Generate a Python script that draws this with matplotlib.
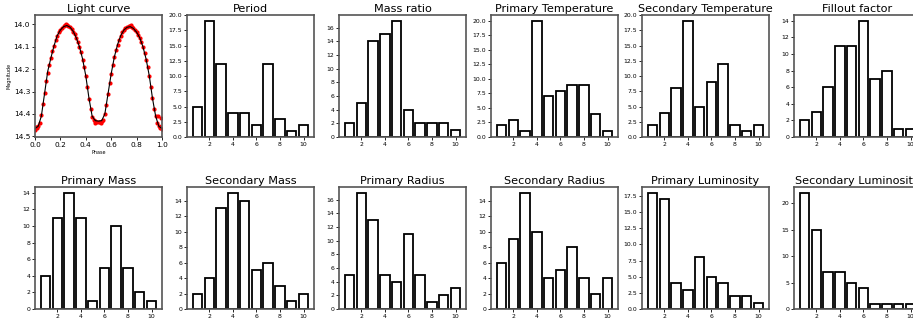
import numpy as np
import matplotlib.pyplot as plt

# Curva de luz (modelo y observaciones)
model_phase = [0.000, 0.025, 0.050, 0.075, 0.100, 0.125, 0.150, 0.175, 0.200, 0.225,
               0.250, 0.275, 0.300, 0.325, 0.350, 0.375, 0.400, 0.425, 0.450, 0.475,
               0.500, 0.525, 0.550, 0.575, 0.600, 0.625, 0.650, 0.675, 0.700, 0.725,
               0.750, 0.775, 0.800, 0.825, 0.850, 0.875, 0.900, 0.925, 0.950, 0.975, 1.000]
model_mag = [14.465, 14.455, 14.41, 14.31, 14.21, 14.15, 14.095, 14.05, 14.025, 14.01,
             14.005, 14.012, 14.03, 14.06, 14.10, 14.155, 14.23, 14.33, 14.41, 14.43,
             14.432, 14.43, 14.40, 14.31, 14.22, 14.145, 14.09, 14.05, 14.025, 14.013,
             14.01, 14.018, 14.035, 14.06, 14.10, 14.155, 14.23, 14.33, 14.41, 14.455, 14.465]

obs_phase = [0.0000, 0.0125, 0.0250, 0.0375, 0.0500, 0.0625, 0.0750, 0.0875, 0.1000, 0.1125,
             0.1250, 0.1375, 0.1500, 0.1625, 0.1750, 0.1875, 0.2000, 0.2125, 0.2250, 0.2375,
             0.2500, 0.2625, 0.2750, 0.2875, 0.3000, 0.3125, 0.3250, 0.3375, 0.3500, 0.3625,
             0.3750, 0.3875, 0.4000, 0.4125, 0.4250, 0.4375, 0.4500, 0.4625, 0.4750, 0.4875,
             0.5000, 0.5125, 0.5250, 0.5375, 0.5500, 0.5625, 0.5750, 0.5875, 0.6000, 0.6125,
             0.6250, 0.6375, 0.6500, 0.6625, 0.6750, 0.6875, 0.7000, 0.7125, 0.7250, 0.7375,
             0.7500, 0.7625, 0.7750, 0.7875, 0.8000, 0.8125, 0.8250, 0.8375, 0.8500, 0.8625,
             0.8750, 0.8875, 0.9000, 0.9125, 0.9250, 0.9375, 0.9500, 0.9625, 0.9750, 0.9875,
             1.0000, 0.9650, 0.9950, 0.0060, 0.4700, 0.5200, 0.2450, 0.7550]
obs_mag = [14.470, 14.462, 14.455, 14.440, 14.405, 14.355, 14.305, 14.255, 14.215, 14.180,
           14.150, 14.120, 14.098, 14.070, 14.052, 14.035, 14.025, 14.015, 14.008, 14.003,
           14.002, 14.006, 14.012, 14.020, 14.032, 14.045, 14.062, 14.080, 14.102, 14.125,
           14.158, 14.190, 14.232, 14.280, 14.332, 14.380, 14.412, 14.428, 14.432, 14.435,
           14.436, 14.434, 14.432, 14.425, 14.400, 14.358, 14.310, 14.262, 14.222, 14.180,
           14.147, 14.115, 14.090, 14.068, 14.050, 14.036, 14.026, 14.018, 14.012, 14.009,
           14.008, 14.012, 14.018, 14.026, 14.036, 14.047, 14.062, 14.080, 14.102, 14.126,
           14.157, 14.190, 14.232, 14.280, 14.330, 14.378, 14.410, 14.440, 14.455, 14.462,
           14.468, 14.410, 14.420, 14.458, 14.440, 14.442, 13.998, 14.003]

# Histogramas de parametros
bins = [1, 2, 3, 4, 5, 6, 7, 8, 9, 10]
period = [5, 19, 12, 4, 4, 2, 12, 3, 1, 2]
mass_ratio = [2, 5, 14, 15, 17, 4, 2, 2, 2, 1]
primary_temp = [2, 3, 1, 20, 7, 8, 9, 9, 4, 1]
secondary_temp = [2, 4, 8, 19, 5, 9, 12, 2, 1, 2]
fillout = [2, 3, 6, 11, 11, 14, 7, 8, 1, 1]
primary_mass = [4, 11, 14, 11, 1, 5, 10, 5, 2, 1]
secondary_mass = [2, 4, 13, 15, 14, 5, 6, 3, 1, 2]
primary_radius = [5, 17, 13, 5, 4, 11, 5, 1, 2, 3]
secondary_radius = [6, 9, 15, 10, 4, 5, 8, 4, 2, 4]
primary_lum = [18, 17, 4, 3, 8, 5, 4, 2, 2, 1]
secondary_lum = [22, 15, 7, 7, 5, 4, 1, 1, 1, 1]

top_titles = ["Period", "Mass ratio", "Primary Temperature", "Secondary Temperature", "Fillout factor"]
top_data = [period, mass_ratio, primary_temp, secondary_temp, fillout]
top_ymax = [20.02, None, None, 20.02, None]
bottom_titles = ["Primary Mass", "Secondary Mass", "Primary Radius", "Secondary Radius",
                 "Primary Luminosity", "Secondary Luminosity"]
bottom_data = [primary_mass, secondary_mass, primary_radius, secondary_radius, primary_lum, secondary_lum]

W, H = 913, 324
fig = plt.figure(figsize=(W / 100, H / 100), dpi=100)

lefts = [35, 187, 339, 491, 642, 794]
aw, ah = 127, 122


def make_axes(col, top):
    return fig.add_axes([lefts[col] / W, 1 - (top + ah) / H, aw / W, ah / H])


def style(ax, title, labelsize=4.4):
    ax.set_title(title, fontsize=8.1, pad=2)
    ax.tick_params(labelsize=labelsize, length=2, width=0.6, pad=1.5)
    for s in ax.spines.values():
        s.set_linewidth(1.2)
        s.set_color("#555555")


def draw_hist(ax, values, title, ymax=None):
    ax.bar(bins, values, width=0.8, color="white", edgecolor="black", linewidth=1.3)
    ax.set_xticks([2, 4, 6, 8, 10])
    if ymax is not None:
        ax.set_ylim(0, ymax)
    style(ax, title)


# Curva de luz
ax = make_axes(0, 15)
ax.plot(obs_phase, obs_mag, "o", color="red", ms=3.0, mew=0)
ax.plot(model_phase, model_mag, color="black", lw=0.8)
ax.set_xlim(0, 1)
ax.set_ylim(14.503, 13.958)
ax.set_xticks([0.0, 0.2, 0.4, 0.6, 0.8, 1.0])
ax.set_yticks([14.0, 14.1, 14.2, 14.3, 14.4, 14.5])
ax.set_xlabel("Phase", fontsize=3.5, labelpad=1.5)
ax.set_ylabel("Magnitude", fontsize=3.5, labelpad=1.5)
style(ax, "Light curve", labelsize=5.3)

for i, (vals, t) in enumerate(zip(top_data, top_titles)):
    draw_hist(make_axes(i + 1, 15), vals, t, top_ymax[i])

for i, (vals, t) in enumerate(zip(bottom_data, bottom_titles)):
    draw_hist(make_axes(i, 187), vals, t)

fig.savefig("out.png", dpi=100)
